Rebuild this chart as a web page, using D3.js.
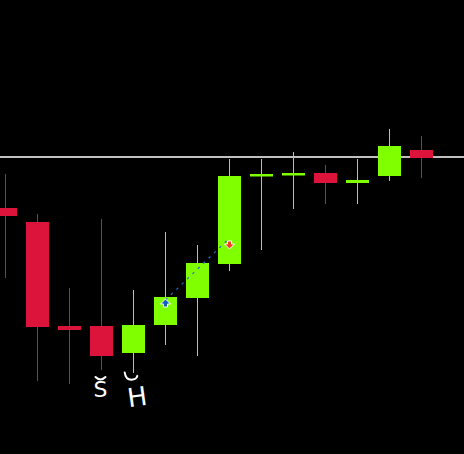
<!DOCTYPE html>
<html>
<head>
<meta charset="utf-8">
<script src="https://cdn.jsdelivr.net/npm/d3@7"></script>
<style>
  html, body { margin: 0; padding: 0; background: #000; }
  svg { display: block; }
</style>
</head>
<body>
<svg id="chart"></svg>
<script>
// bars (index only, no time axis shown)
const bars = d3.range(14);
// OHLC in chart units
const opens  = [246, 232, 128, 128, 101, 129, 156, 190, 278, 279, 281, 271, 278, 304];
const highs  = [280, 240, 166, 235, 164, 222, 209, 295, 295, 302, 289, 295, 325, 318];
const lows   = [176,  73,  70,  84,  81, 109,  98, 183, 204, 245, 250, 250, 273, 276];
const closes = [238, 127, 124,  98, 129, 157, 191, 278, 280, 281, 271, 274, 308, 296];

// horizontal level line
const levelLine = 297;
// signal arrows: bar index, price, direction
const signals = [
  {bar: 5, price: 151, dir: "up"},
  {bar: 7, price: 209, dir: "down"}
];
// annotations below bars
const notes = [
  {bar: 3, text: "S"},
  {bar: 4, text: "H"}
];

const width = 464, height = 454;
const upColor = "#7fff00", downColor = "#dc143c";

const svg = d3.select("#chart")
  .attr("width", width)
  .attr("height", height);

svg.append("rect")
  .attr("width", width)
  .attr("height", height)
  .attr("fill", "#000");

const x = d3.scaleBand()
  .domain(bars)
  .range([-10.7, 437.3])
  .paddingInner(0.28)
  .paddingOuter(0.14);

const y = d3.scaleLinear()
  .domain([0, height])
  .range([height, 0]);

const candles = bars.map(i => ({
  i: i, o: opens[i], h: highs[i], l: lows[i], c: closes[i]
}));

const cx = i => Math.round(x(i) + x.bandwidth() / 2) + 0.5;
const col = d => d.c >= d.o ? upColor : downColor;

// level line
svg.append("line")
  .attr("x1", 0).attr("x2", width)
  .attr("y1", y(levelLine)).attr("y2", y(levelLine))
  .attr("stroke", "#fff")
  .attr("stroke-width", 1.5);

const g = svg.append("g");

// wicks
g.selectAll("line.wick")
  .data(candles)
  .join("line")
  .attr("class", "wick")
  .attr("x1", d => cx(d.i)).attr("x2", d => cx(d.i))
  .attr("y1", d => y(d.h)).attr("y2", d => y(d.l))
  .attr("stroke", col)
  .attr("stroke-width", 1);

// bodies
g.selectAll("rect.body")
  .data(candles)
  .join("rect")
  .attr("class", "body")
  .attr("x", d => Math.round(x(d.i)))
  .attr("width", Math.round(x.bandwidth()))
  .attr("y", d => y(Math.max(d.o, d.c)))
  .attr("height", d => Math.max(2.5, Math.abs(y(d.o) - y(d.c))))
  .attr("fill", col);

// dotted link between signals
svg.append("line")
  .attr("x1", cx(signals[0].bar)).attr("y1", y(signals[0].price) - 3)
  .attr("x2", cx(signals[1].bar) - 2).attr("y2", y(signals[1].price) - 5)
  .attr("stroke", "#1a6fd0")
  .attr("stroke-width", 1.2)
  .attr("stroke-dasharray", "2.5,5");

// arrows
const upArrow = "M0,-4 L5,1 L2,1 L2,4 L-2,4 L-2,1 L-5,1 Z";
svg.selectAll("path.sig")
  .data(signals)
  .join("path")
  .attr("class", "sig")
  .attr("d", upArrow)
  .attr("transform", d => `translate(${cx(d.bar)},${y(d.price)})` + (d.dir === "down" ? " rotate(180)" : ""))
  .attr("fill", d => d.dir === "up" ? "#1560b8" : "#f0401c")
  .attr("stroke", "#fff")
  .attr("stroke-width", 1);

// handwritten notes
const noteG = svg.selectAll("g.note")
  .data(notes)
  .join("g")
  .attr("class", "note")
  .attr("transform", (d, k) => k === 0
    ? `translate(${cx(d.bar) - 1},397)`
    : `translate(${cx(d.bar) + 5},406) rotate(-8)`);

noteG.append("text")
  .attr("text-anchor", "middle")
  .attr("font-family", "DejaVu Sans")
  .attr("font-size", (d, k) => k === 0 ? 22 : 26)
  .attr("fill", "#fff")
  .text(d => d.text);

noteG.append("path")
  .attr("d", (d, k) => k === 0 ? "M-5,-20 Q0,-15 5,-20" : "M-9,-35 Q-9,-27 -2,-27 Q2,-27 3,-30")
  .attr("fill", "none")
  .attr("stroke", "#fff")
  .attr("stroke-width", 2)
  .attr("stroke-linecap", "round");
</script>
</body>
</html>
